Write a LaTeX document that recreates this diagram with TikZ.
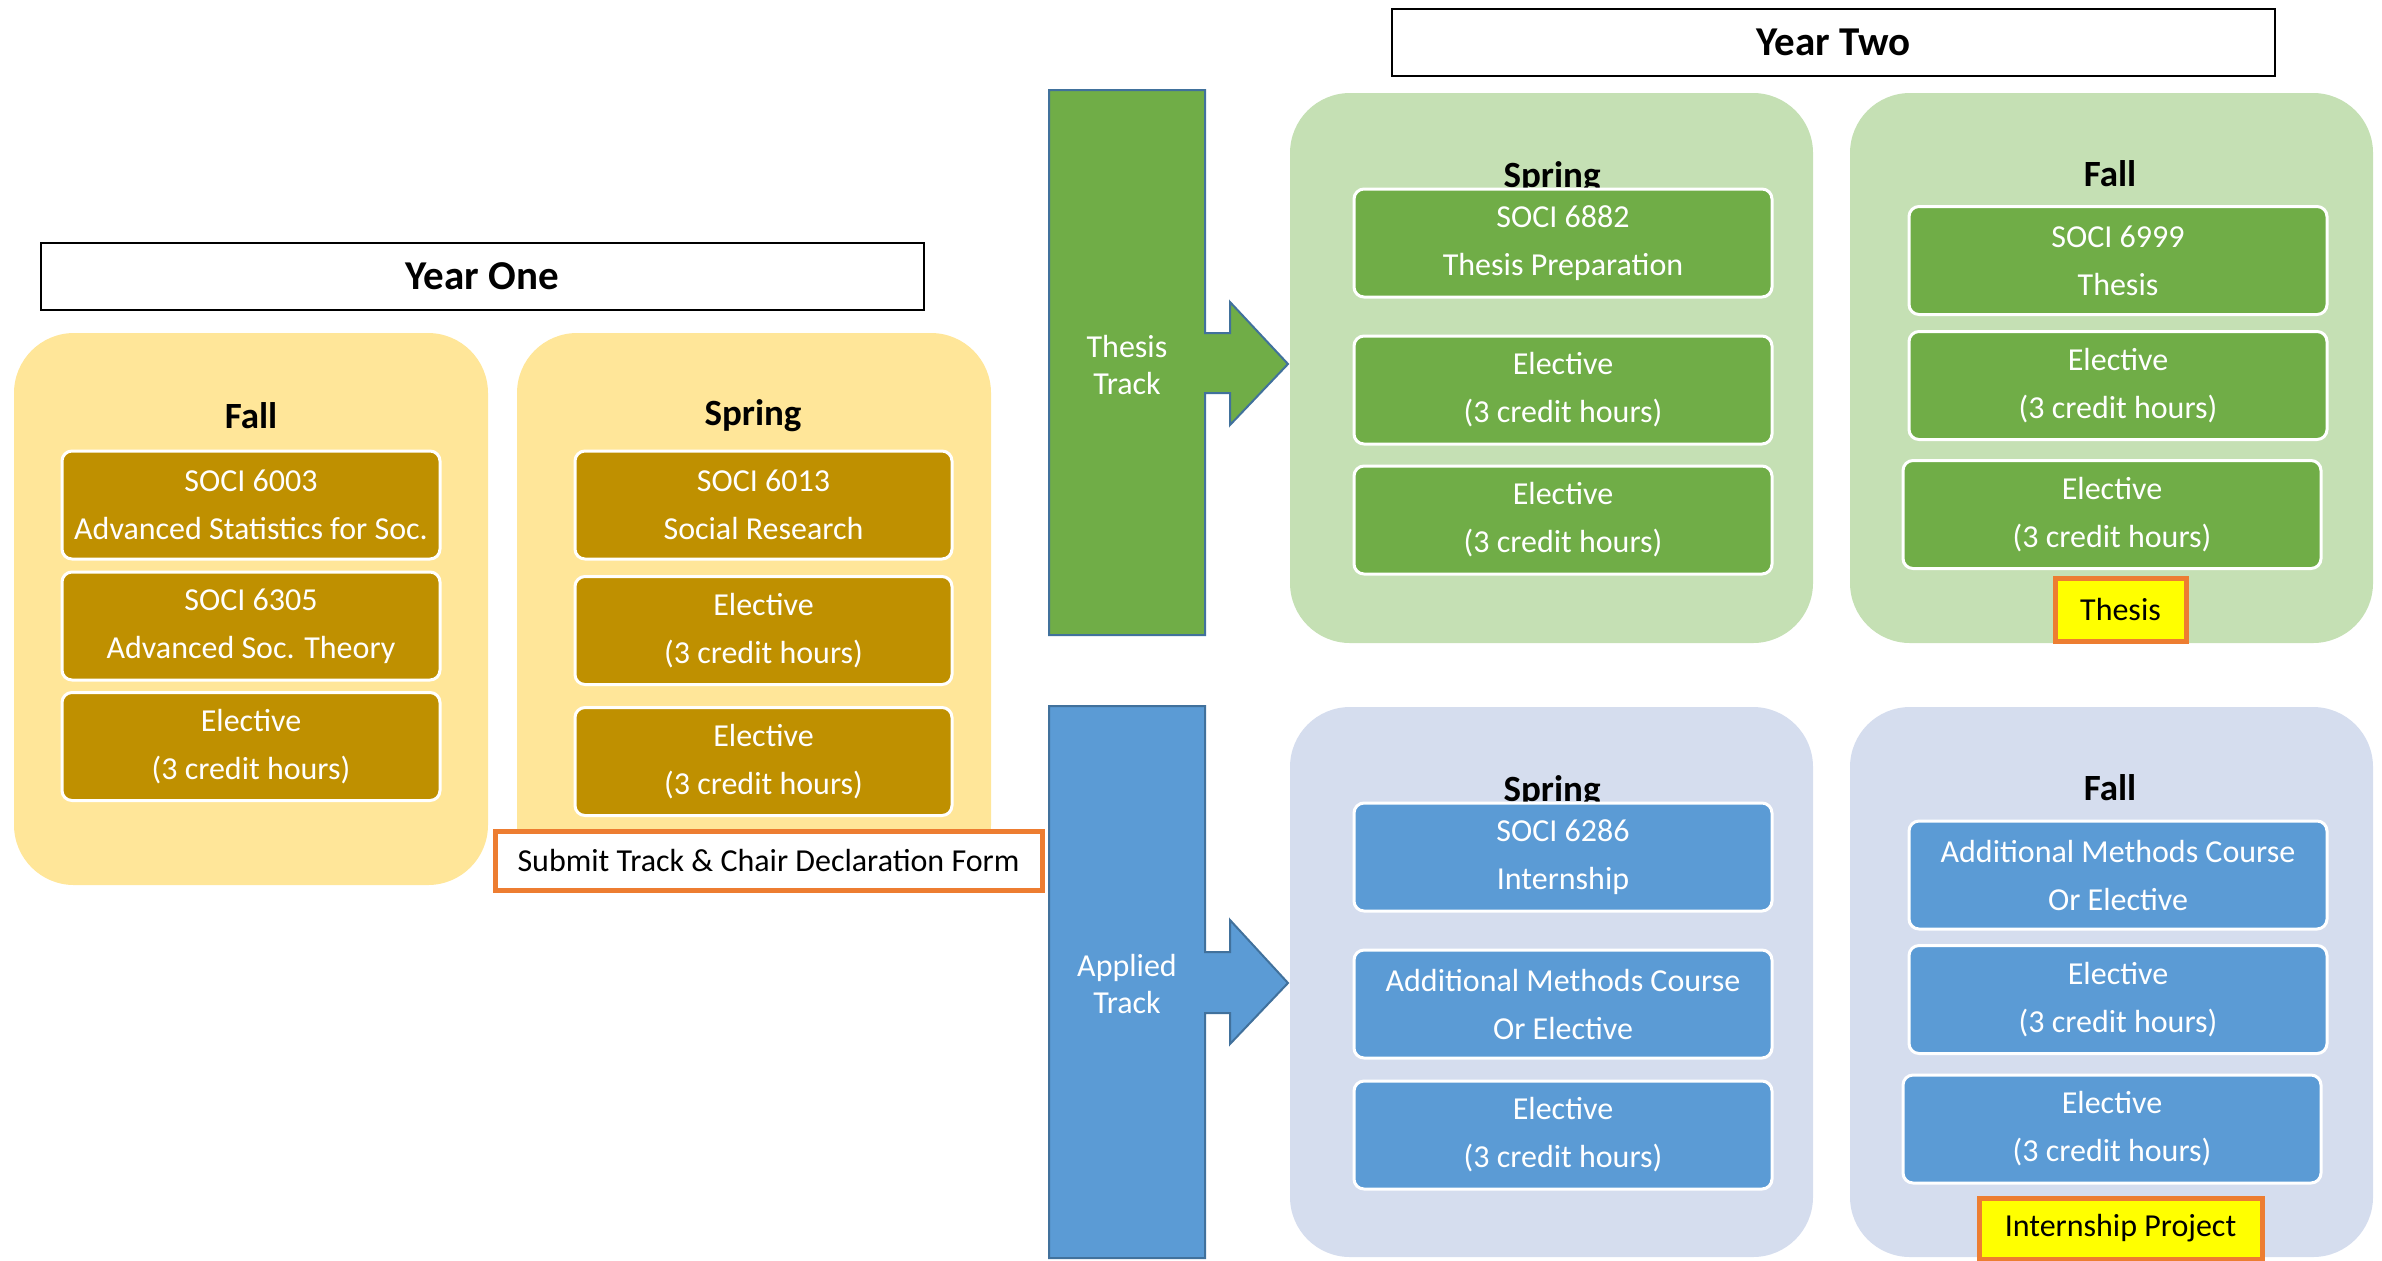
\documentclass[tikz,border=0pt]{standalone}
\usepackage{fontspec}
\setmainfont{Carlito}
\definecolor{ylbg}{HTML}{FFE699}
\definecolor{ylbox}{HTML}{BF9000}
\definecolor{grbg}{HTML}{C5E0B4}
\definecolor{grbox}{HTML}{70AD47}
\definecolor{blbg}{HTML}{D5DDEE}
\definecolor{blbox}{HTML}{5B9BD5}
\definecolor{outl}{HTML}{41719C}
\definecolor{orng}{HTML}{ED7D31}
\definecolor{hilite}{HTML}{FFFF00}
\begin{document}
\begin{tikzpicture}[x=0.5pt,y=-0.5pt,
  bgbox/.style={rounded corners=30pt, inner sep=0pt, minimum width=237pt, minimum height=276pt},
  bgboxb/.style={rounded corners=30pt, inner sep=0pt, minimum width=261.5pt, minimum height=275pt},
  course/.style={rounded corners=5pt, draw=white, line width=1.5pt, text=white, align=center,
    font=\fontsize{16}{24}\selectfont, minimum height=54pt, inner sep=0pt},
  semlabel/.style={font=\bfseries\fontsize{18.5}{22}\selectfont, inner sep=0pt},
  yearbox/.style={draw=black, line width=1pt, fill=white, font=\bfseries\fontsize{20.5}{24}\selectfont,
    minimum width=441.5pt, minimum height=33.5pt, inner sep=0pt},
  flag/.style={draw=orng, line width=2.5pt, font=\fontsize{16}{19}\selectfont, inner sep=0pt},
  trackshape/.style={draw=outl, line width=1pt},
  tracklabel/.style={text=white, align=center, font=\fontsize{16}{18.5}\selectfont},
]
\useasboundingbox (0,0) rectangle (2382,1260);

% ---------------- Year One ----------------
\node[bgbox, fill=ylbg] (y1fallbg) at (251,609) {};
\node[bgbox, fill=ylbg] (y1sprbg) at (754,609) {};
\node[semlabel] (y1fall) at (251,416) {Fall};
\node[semlabel] (y1spr) at (753,416) {Spring};

\node[course, fill=ylbox, minimum width=189pt] (f1) at (251,505) {SOCI 6003\\Advanced Statistics for Soc.};
\node[course, fill=ylbox, minimum width=189pt] (f2) at (251,626) {SOCI 6305\\Advanced Soc. Theory};
\node[course, fill=ylbox, minimum width=189pt] (f3) at (251,746.5) {Elective\\(3 credit hours)};

\node[course, fill=ylbox, minimum width=188.5pt] (s1) at (763.5,505) {SOCI 6013\\Social Research};
\node[course, fill=ylbox, minimum width=188.5pt] (s2) at (763.5,630.5) {Elective\\(3 credit hours)};
\node[course, fill=ylbox, minimum width=188.5pt] (s3) at (763.5,761.5) {Elective\\(3 credit hours)};

\node[flag, fill=white, minimum width=273.5pt, minimum height=29.5pt] (submit) at (768.5,860.5) {Submit Track \& Chair Declaration Form};

\node[yearbox] (yearone) at (482.5,276.5) {Year One};

% ---------------- Year Two ----------------
\node[yearbox] (yeartwo) at (1833.5,42) {Year Two};

% Thesis track
\node[bgboxb, fill=grbg] (tsprbg) at (1551.5,368) {};
\node[bgboxb, fill=grbg] (tfallbg) at (2111.5,368) {};
\node[semlabel] (tspr) at (1552,178) {Spring};
\node[semlabel] (tfall) at (2110,174) {Fall};

\node[course, fill=grbox, minimum width=209pt] (ts1) at (1563,243) {SOCI 6882\\Thesis Preparation};
\node[course, fill=grbox, minimum width=209pt] (ts2) at (1563,390) {Elective\\(3 credit hours)};
\node[course, fill=grbox, minimum width=209pt] (ts3) at (1563,520) {Elective\\(3 credit hours)};

\node[course, fill=grbox, minimum width=209pt] (tf1) at (2118,260.5) {SOCI 6999\\Thesis};
\node[course, fill=grbox, minimum width=209pt] (tf2) at (2118,385.5) {Elective\\(3 credit hours)};
\node[course, fill=grbox, minimum width=209pt] (tf3) at (2112,514.5) {Elective\\(3 credit hours)};

\node[flag, fill=hilite, minimum width=65.5pt, minimum height=31.5pt] (thesisflag) at (2120.5,609.5) {Thesis};

\draw[trackshape, fill=grbox] (1049,90) -- (1205,90) -- (1205,333) -- (1230,333) -- (1230,302)
  -- (1288,364) -- (1230,425) -- (1230,393) -- (1205,393) -- (1205,635) -- (1049,635) -- cycle;
\node[tracklabel] (thesistrack) at (1127,364.5) {Thesis\\Track};

% Applied track
\node[bgboxb, fill=blbg] (asprbg) at (1551.5,982) {};
\node[bgboxb, fill=blbg] (afallbg) at (2111.5,982) {};
\node[semlabel] (aspr) at (1552,792) {Spring};
\node[semlabel] (afall) at (2110,788) {Fall};

\node[course, fill=blbox, minimum width=209pt] (as1) at (1563,857) {SOCI 6286\\Internship};
\node[course, fill=blbox, minimum width=209pt] (as2) at (1563,1004) {Additional Methods Course\\Or Elective};
\node[course, fill=blbox, minimum width=209pt] (as3) at (1563,1135) {Elective\\(3 credit hours)};

\node[course, fill=blbox, minimum width=209pt] (af1) at (2118,875) {Additional Methods Course\\Or Elective};
\node[course, fill=blbox, minimum width=209pt] (af2) at (2118,999.5) {Elective\\(3 credit hours)};
\node[course, fill=blbox, minimum width=209pt] (af3) at (2112,1129) {Elective\\(3 credit hours)};

\node[flag, fill=hilite, minimum width=141.5pt, minimum height=30.5pt] (internflag) at (2120.5,1228.5) {Internship Project};

\draw[trackshape, fill=blbox] (1049,706) -- (1205,706) -- (1205,952) -- (1230,952) -- (1230,920)
  -- (1288,983) -- (1230,1044) -- (1230,1013) -- (1205,1013) -- (1205,1258) -- (1049,1258) -- cycle;
\node[tracklabel] (appliedtrack) at (1127,984) {Applied\\Track};
\end{tikzpicture}
\end{document}
